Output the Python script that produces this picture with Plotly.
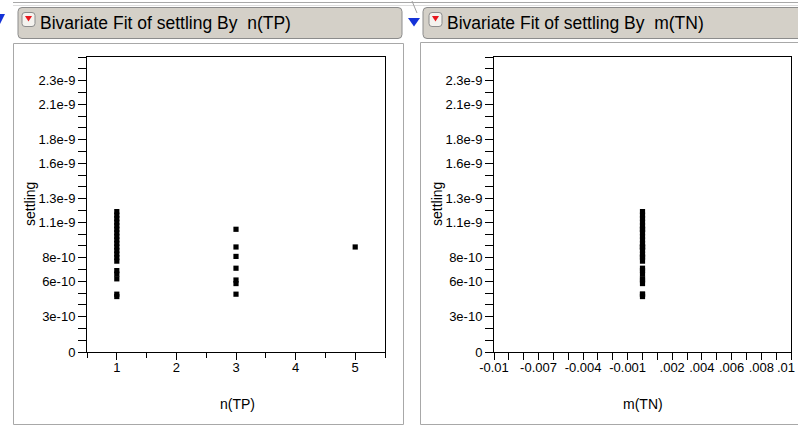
import plotly.graph_objects as go

# Observations: settling vs n(TP) and m(TN)
n_tp = [1] * 15 + [1, 1, 1, 1, 1] + [3, 3, 3, 3, 3, 3, 3] + [5]
settling = [
    1.19e-9, 1.16e-9, 1.13e-9, 1.10e-9, 1.07e-9, 1.04e-9, 1.01e-9, 0.98e-9,
    0.95e-9, 0.92e-9, 0.89e-9, 0.86e-9, 0.83e-9, 0.80e-9, 0.77e-9,
    0.69e-9, 0.66e-9, 0.62e-9, 0.49e-9, 0.47e-9,
    1.04e-9, 0.89e-9, 0.81e-9, 0.71e-9, 0.61e-9, 0.58e-9, 0.49e-9,
    0.89e-9,
]
m_tn = [0.0] * len(settling)

# Axis tick labels
y_tick_vals = [0, 3e-10, 6e-10, 8e-10, 1.1e-9, 1.3e-9, 1.6e-9, 1.8e-9, 2.1e-9, 2.3e-9]
y_tick_text = ["0", "3e-10", "6e-10", "8e-10", "1.1e-9", "1.3e-9", "1.6e-9", "1.8e-9", "2.1e-9", "2.3e-9"]
x1_tick_vals = [1, 2, 3, 4, 5]
x2_tick_vals = [-0.01, -0.007, -0.004, -0.001, 0.002, 0.004, 0.006, 0.008, 0.01]
x2_tick_text = ["-0.01", "-0.007", "-0.004", "-0.001", ".002", ".004", ".006", ".008", ".01"]

W, H = 798, 425


def px(x):
    return x / W


def py(y):
    return 1 - y / H


FONT = "Liberation Sans, Arial, sans-serif"

fig = go.Figure()
marker = dict(symbol="square", size=5.2, color="black", line=dict(width=0))
fig.add_trace(go.Scatter(x=n_tp, y=settling, mode="markers", marker=marker,
                         xaxis="x", yaxis="y", hoverinfo="x+y"))
fig.add_trace(go.Scatter(x=m_tn, y=settling, mode="markers", marker=marker,
                         xaxis="x2", yaxis="y2", hoverinfo="x+y"))

tick_font = dict(family=FONT, size=13, color="black")
axis_common = dict(
    showline=True, mirror=True, linecolor="black", linewidth=1,
    showgrid=False, zeroline=False, ticks="outside", tickcolor="black",
    automargin=False, tickfont=tick_font,
)

y_axis = dict(
    axis_common, range=[0, 2.5e-9], tickmode="array",
    tickvals=y_tick_vals, ticktext=y_tick_text, ticklen=8,
    minor=dict(ticks="outside", tick0=0, dtick=1e-10, ticklen=8, tickcolor="black"),
)

# the last m(TN) label sits flush against the right window edge, so it is
# drawn as a right-anchored annotation at its tick instead of a centred label
x2_axis_text = x2_tick_text[:-1] + [""]

fig.update_layout(
    width=W, height=H, margin=dict(l=0, r=0, t=0, b=0, autoexpand=False),
    paper_bgcolor="white", plot_bgcolor="white", showlegend=False,
    xaxis=dict(axis_common, domain=[px(87), px(385)], range=[0.5, 5.5],
               tickmode="array", tickvals=x1_tick_vals, ticklen=7, anchor="y",
               ticklabelstandoff=-4,
               minor=dict(ticks="outside", tick0=0.5, dtick=0.5, ticklen=5, tickcolor="black")),
    yaxis=dict(y_axis, domain=[py(352), py(57)], anchor="x"),
    xaxis2=dict(axis_common, domain=[px(494), px(791)], range=[-0.0100001, 0.0100001],
                tickmode="array", tickvals=x2_tick_vals, ticktext=x2_axis_text,
                ticklen=7, anchor="y2", ticklabelstandoff=-4,
                minor=dict(ticks="outside", tick0=0, dtick=0.001, ticklen=7, tickcolor="black")),
    yaxis2=dict(y_axis, domain=[py(352), py(57)], anchor="x2"),
)

shapes = []


def rect(x0, y0, x1, y1, fill="rgba(0,0,0,0)", line="#a0a0a0", width=1, layer="below"):
    shapes.append(dict(type="rect", xref="paper", yref="paper",
                       x0=px(x0), x1=px(x1), y0=py(y1), y1=py(y0),
                       fillcolor=fill, line=dict(color=line, width=width), layer=layer))


def poly(points, fill, line="rgba(0,0,0,0)", width=0):
    d = "M " + " L ".join(f"{px(x):.5f},{py(y):.5f}" for x, y in points) + " Z"
    shapes.append(dict(type="path", xref="paper", yref="paper", path=d,
                       fillcolor=fill, line=dict(color=line, width=width), layer="above"))


def hline(x0, x1, y, color):
    shapes.append(dict(type="line", xref="paper", yref="paper",
                       x0=px(x0), x1=px(x1), y0=py(y), y1=py(y),
                       line=dict(color=color, width=1), layer="below"))


def rounded(x0, y0, x1, y1, r, fill, line):
    pts = (f"M {px(x0 + r)},{py(y0)} L {px(x1 - r)},{py(y0)} "
           f"Q {px(x1)},{py(y0)} {px(x1)},{py(y0 + r)} L {px(x1)},{py(y1 - r)} "
           f"Q {px(x1)},{py(y1)} {px(x1 - r)},{py(y1)} L {px(x0 + r)},{py(y1)} "
           f"Q {px(x0)},{py(y1)} {px(x0)},{py(y1 - r)} L {px(x0)},{py(y0 + r)} "
           f"Q {px(x0)},{py(y0)} {px(x0 + r)},{py(y0)} Z")
    shapes.append(dict(type="path", xref="paper", yref="paper", path=pts,
                       fillcolor=fill, line=dict(color=line, width=1), layer="below"))


# window chrome: top rule lines
hline(13, 798, 2.5, "#a8a8a8")
hline(13, 798, 5.5, "#dcdcdc")

# outline report headers
rounded(18, 7.5, 402, 38.5, 4, "#d4d0c8", "#8c8c8c")
rounded(423, 7.5, 806, 38.5, 4, "#d4d0c8", "#8c8c8c")

# panel boxes
rect(13.5, 43.5, 403.5, 424.5, line="#a8a8a8")
rect(420.5, 42.5, 806, 424.5, line="#a8a8a8")

# red popup-menu icons
for x0 in (22, 429):
    rounded(x0, 12.5, x0 + 13, 26.5, 3, "#f4f2ee", "#8c8c8c")
    poly([(x0 + 3, 16), (x0 + 10, 16), (x0 + 6.5, 21.5)], "#e8161c")

# blue disclosure triangles
poly([(-6, 14), (5, 14), (-0.5, 25)], "#1432d8")
poly([(408, 18), (420, 18), (414, 26.5)], "#1432d8")
shapes.append(dict(type="line", xref="paper", yref="paper",
                   x0=px(412), y0=py(1), x1=px(417), y1=py(13),
                   line=dict(color="#a0a0a0", width=1)))

fig.update_layout(shapes=shapes)

title_font = dict(family=FONT, size=17.5, color="black")
label_font = dict(family=FONT, size=14, color="black")
annotations = [
    dict(text="Bivariate Fit of settling By  n(TP)", x=px(38), y=py(22.5),
         xanchor="left", yanchor="middle", font=title_font),
    dict(text="Bivariate Fit of settling By  m(TN)", x=px(445), y=py(22.5),
         xanchor="left", yanchor="middle", font=title_font),
    dict(text="settling", x=px(30), y=py(204), textangle=-90,
         xanchor="center", yanchor="middle", font=label_font),
    dict(text="settling", x=px(437), y=py(204), textangle=-90,
         xanchor="center", yanchor="middle", font=label_font),
    dict(text="n(TP)", x=px(237), y=py(404), xanchor="center", yanchor="middle",
         font=label_font),
    dict(text="m(TN)", x=px(643), y=py(404), xanchor="center", yanchor="middle",
         font=label_font),
]
for a in annotations:
    a.update(xref="paper", yref="paper", showarrow=False)
annotations.append(dict(
    text=x2_tick_text[-1], x=x2_tick_vals[-1], xref="x2", xanchor="right", xshift=6,
    y=py(367), yref="paper", yanchor="middle", showarrow=False, font=tick_font,
))
fig.update_layout(annotations=annotations)

fig.write_html("out.html")
